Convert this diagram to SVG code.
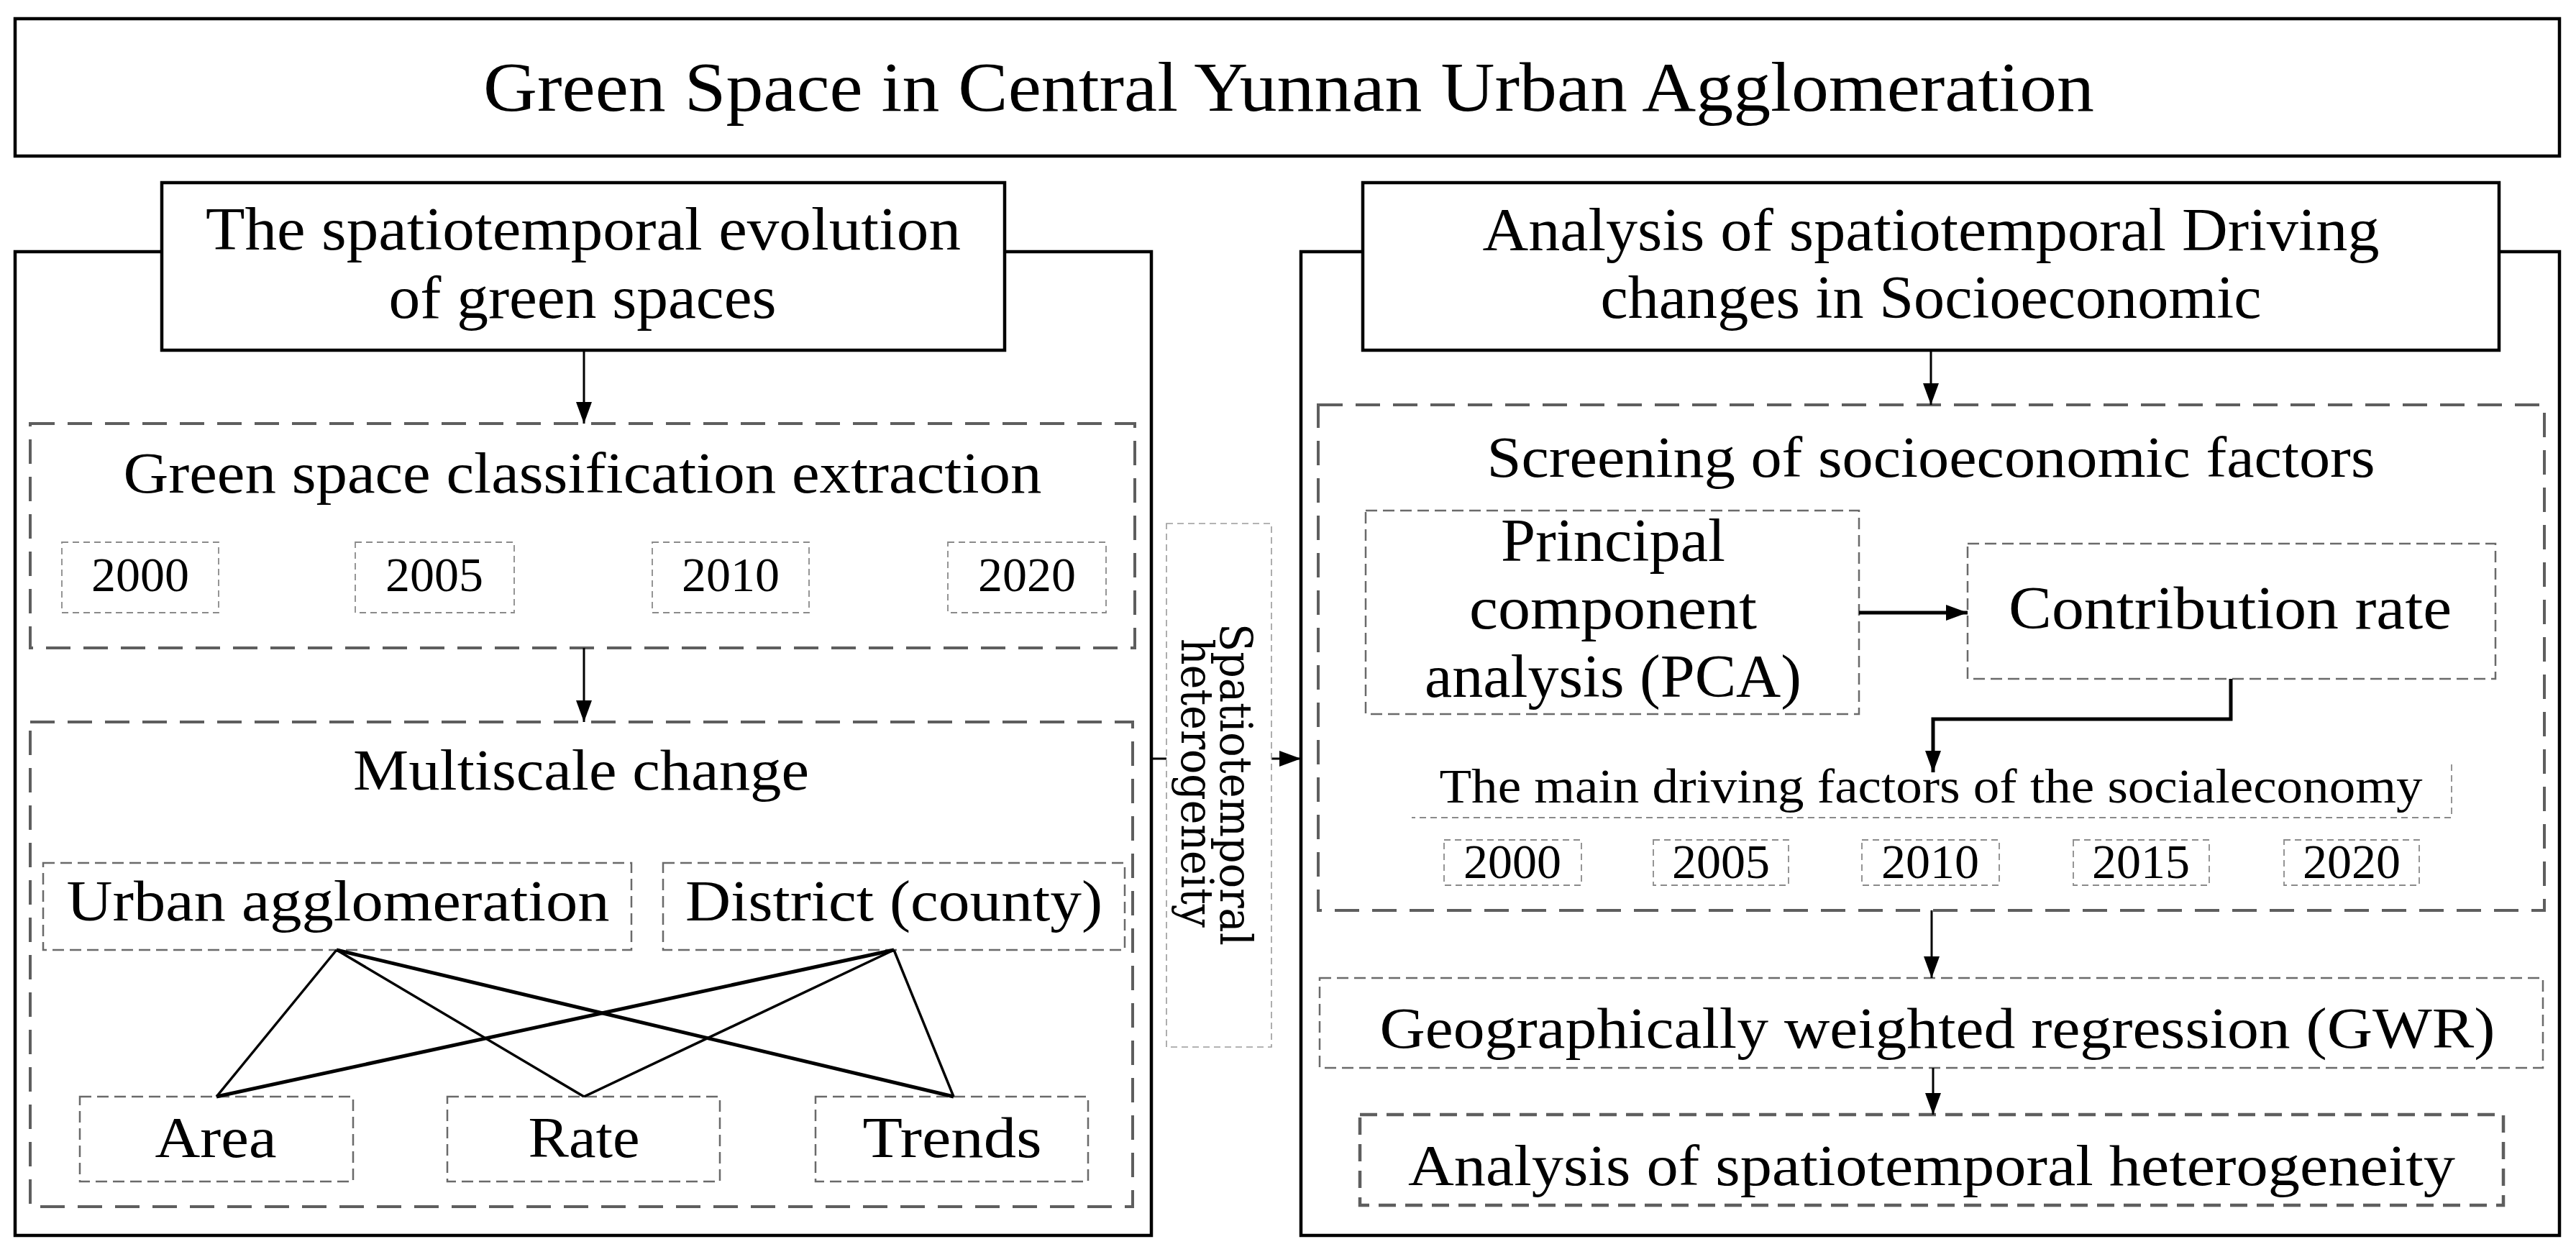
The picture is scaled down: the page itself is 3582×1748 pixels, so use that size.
<svg xmlns="http://www.w3.org/2000/svg" width="3582" height="1748" viewBox="0 0 3582 1748">
<defs>
<marker id="arr" markerUnits="userSpaceOnUse" markerWidth="30" markerHeight="22" refX="30" refY="11" orient="auto">
<path d="M0,0 L30,11 L0,22 z" fill="#000"/>
</marker>
</defs>
<style>
text{font-family:"Liberation Serif","Times New Roman",serif;fill:#000;text-anchor:middle}
.solid{fill:#fff;stroke:#000;stroke-width:4.5}
.dashA{fill:none;stroke:#5e5e5e;stroke-width:4;stroke-dasharray:34 18}
.dashB{fill:none;stroke:#6a6a6a;stroke-width:2.5;stroke-dasharray:16 8}
.dashC{fill:none;stroke:#8a8a8a;stroke-width:1.8;stroke-dasharray:9 6}
.dashD{fill:#fff;stroke:#9a9a9a;stroke-width:1.6;stroke-dasharray:9 6}
.dashE{fill:none;stroke:#5e5e5e;stroke-width:4.5;stroke-dasharray:24 13}
.ln{fill:none;stroke:#000;stroke-width:3}
.lx{fill:none;stroke:#000;stroke-width:3.5}
.lnT{fill:none;stroke:#000;stroke-width:5}
.big{font-size:98px}
.hd{font-size:85px}
.md{font-size:80px}
.yr{font-size:68px}
</style>

<g id="title">
<rect class="solid" x="21" y="26" width="3538" height="191"/>
<text class="big" x="1792" y="154" textLength="2240" lengthAdjust="spacingAndGlyphs">Green Space in Central Yunnan Urban Agglomeration</text>
</g>

<g id="left-panel">
<rect class="solid" x="21" y="350" width="1580" height="1368"/>
</g>
<g id="right-panel">
<rect class="solid" x="1809" y="350" width="1750" height="1368"/>
</g>

<g id="left-header">
<rect class="solid" x="225" y="254" width="1172" height="233"/>
<text class="hd" x="811" y="347" textLength="1050" lengthAdjust="spacingAndGlyphs">The spatiotemporal evolution</text>
<text class="hd" x="810" y="442" textLength="539" lengthAdjust="spacingAndGlyphs">of green spaces</text>
</g>

<g id="right-header">
<rect class="solid" x="1895" y="254" width="1580" height="233"/>
<text class="hd" x="2685" y="348" textLength="1247" lengthAdjust="spacingAndGlyphs">Analysis of spatiotemporal Driving</text>
<text class="hd" x="2685" y="442" textLength="919" lengthAdjust="spacingAndGlyphs">changes in Socioeconomic</text>
</g>

<g id="classification">
<rect class="dashA" x="42" y="589" width="1536" height="312"/>
<text class="md" x="810" y="685" textLength="1277" lengthAdjust="spacingAndGlyphs">Green space classification extraction</text>
</g>
<g id="year-l-2000"><rect class="dashC" x="86" y="754" width="218" height="98"/><text class="yr" x="195" y="822">2000</text></g>
<g id="year-l-2005"><rect class="dashC" x="494" y="754" width="221" height="98"/><text class="yr" x="604" y="822">2005</text></g>
<g id="year-l-2010"><rect class="dashC" x="907" y="754" width="218" height="98"/><text class="yr" x="1016" y="822">2010</text></g>
<g id="year-l-2020"><rect class="dashC" x="1318" y="754" width="220" height="98"/><text class="yr" x="1428" y="822">2020</text></g>

<g id="multiscale">
<rect class="dashA" x="42" y="1004" width="1533" height="674"/>
<text class="md" x="808" y="1098" textLength="634" lengthAdjust="spacingAndGlyphs">Multiscale change</text>
</g>
<g id="urban">
<rect class="dashB" x="60" y="1200" width="818" height="121"/>
<text class="md" x="470" y="1280" textLength="755" lengthAdjust="spacingAndGlyphs">Urban agglomeration</text>
</g>
<g id="district">
<rect class="dashB" x="922" y="1200" width="642" height="121"/>
<text class="md" x="1243" y="1280" textLength="580" lengthAdjust="spacingAndGlyphs">District (county)</text>
</g>
<g id="area">
<rect class="dashB" x="111" y="1525" width="380" height="118"/>
<text class="md" x="300" y="1609" textLength="169" lengthAdjust="spacingAndGlyphs">Area</text>
</g>
<g id="rate">
<rect class="dashB" x="622" y="1525" width="379" height="118"/>
<text class="md" x="812" y="1609" textLength="155" lengthAdjust="spacingAndGlyphs">Rate</text>
</g>
<g id="trends">
<rect class="dashB" x="1134" y="1525" width="379" height="118"/>
<text class="md" x="1324" y="1609" textLength="249" lengthAdjust="spacingAndGlyphs">Trends</text>
</g>

<g id="screening">
<rect class="dashA" x="1833" y="563" width="1705" height="703"/>
<text class="md" x="2685" y="663" textLength="1235" lengthAdjust="spacingAndGlyphs">Screening of socioeconomic factors</text>
</g>
<g id="pca">
<rect class="dashB" x="1899" y="710" width="686" height="283"/>
<text class="hd" x="2243" y="780" textLength="312" lengthAdjust="spacingAndGlyphs">Principal</text>
<text class="hd" x="2243" y="874" textLength="400" lengthAdjust="spacingAndGlyphs">component</text>
<text class="hd" x="2243" y="969" textLength="524" lengthAdjust="spacingAndGlyphs">analysis (PCA)</text>
</g>
<g id="contribution">
<rect class="dashB" x="2736" y="756" width="734" height="188"/>
<text class="hd" x="3101" y="874" textLength="616" lengthAdjust="spacingAndGlyphs">Contribution rate</text>
</g>
<g id="main-factors">
<path class="dashC" d="M3409,1063 L3409,1137 L1963,1137"/>
<text class="yr" x="2685" y="1116" textLength="1367" lengthAdjust="spacingAndGlyphs">The main driving factors of the socialeconomy</text>
</g>
<g id="year-r-2000"><rect class="dashC" x="2008" y="1168" width="191" height="63"/><text class="yr" x="2103" y="1221">2000</text></g>
<g id="year-r-2005"><rect class="dashC" x="2299" y="1168" width="188" height="63"/><text class="yr" x="2393" y="1221">2005</text></g>
<g id="year-r-2010"><rect class="dashC" x="2589" y="1168" width="191" height="63"/><text class="yr" x="2684" y="1221">2010</text></g>
<g id="year-r-2015"><rect class="dashC" x="2883" y="1168" width="189" height="63"/><text class="yr" x="2977" y="1221">2015</text></g>
<g id="year-r-2020"><rect class="dashC" x="3176" y="1168" width="188" height="63"/><text class="yr" x="3270" y="1221">2020</text></g>

<g id="gwr">
<rect class="dashB" x="1835" y="1360" width="1701" height="125"/>
<text class="md" x="2694" y="1457" textLength="1551" lengthAdjust="spacingAndGlyphs">Geographically weighted regression (GWR)</text>
</g>
<g id="heterogeneity-analysis">
<rect class="dashE" x="1891" y="1550" width="1590" height="126"/>
<text class="md" x="2686" y="1648" textLength="1456" lengthAdjust="spacingAndGlyphs">Analysis of spatiotemporal heterogeneity</text>
</g>

<g id="connectors">
<line class="ln" x1="812" y1="487" x2="812" y2="589" marker-end="url(#arr)"/>
<line class="ln" x1="812" y1="901" x2="812" y2="1004" marker-end="url(#arr)"/>
<line class="ln" x1="2685" y1="487" x2="2685" y2="563" marker-end="url(#arr)"/>
<line class="ln" x1="1601" y1="1055" x2="1809" y2="1055" marker-end="url(#arr)"/>
<line class="lnT" x1="2585" y1="852" x2="2736" y2="852" marker-end="url(#arr)"/>
<path class="lnT" d="M3102,944 L3102,1000 L2688,1000 L2688,1074" marker-end="url(#arr)"/>
<line class="ln" x1="2686" y1="1266" x2="2686" y2="1360" marker-end="url(#arr)"/>
<line class="ln" x1="2688" y1="1485" x2="2688" y2="1550" marker-end="url(#arr)"/>
<line class="lx" x1="468" y1="1321" x2="301" y2="1525"/>
<line class="lx" x1="468" y1="1321" x2="812" y2="1525"/>
<line class="lnT" x1="468" y1="1321" x2="1326" y2="1525"/>
<line class="lnT" x1="1243" y1="1321" x2="301" y2="1525"/>
<line class="lx" x1="1243" y1="1321" x2="812" y2="1525"/>
<line class="lx" x1="1243" y1="1321" x2="1326" y2="1525"/>
</g>

<g id="spatiotemporal-heterogeneity">
<rect class="dashD" x="1622" y="728" width="146" height="728"/>
<text style="font-family:'DejaVu Serif','Liberation Serif',serif;font-size:62px" transform="translate(1697,1091) rotate(90)" x="0" y="0" textLength="448" lengthAdjust="spacingAndGlyphs">Spatiotemporal</text>
<text style="font-family:'DejaVu Serif','Liberation Serif',serif;font-size:62px" transform="translate(1643,1089) rotate(90)" x="0" y="0" textLength="402" lengthAdjust="spacingAndGlyphs">heterogeneity</text>
</g>
</svg>
